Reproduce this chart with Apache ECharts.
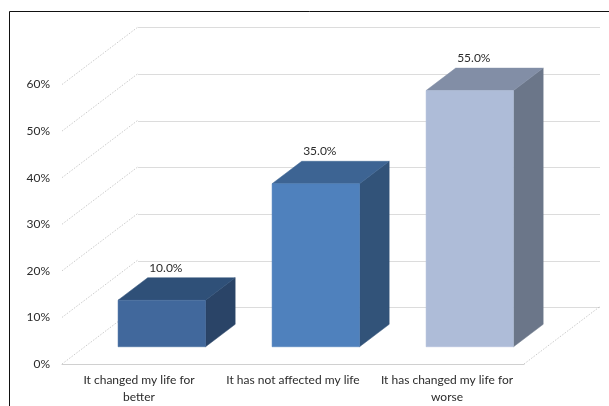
<!DOCTYPE html>
<html>
<head>
<meta charset="utf-8">
<style>html,body{margin:0;padding:0;background:#fff}#c{width:609px;height:406px}</style>
<script src="https://cdn.jsdelivr.net/npm/echarts@6/dist/echarts.min.js"></script>
</head>
<body>
<div id="c"></div>
<script>
const categories = ['It changed my life for\nbetter', 'It has not affected my life', 'It has changed my life for\nworse'];
const values = [10, 35, 55];
const frontColors = ['#41689c', '#4f81bd', '#aebcd8'];
const topColors = ['#2f5078', '#3d6493', '#828ea6'];
const sideColors = ['#2a4467', '#325379', '#6b7689'];
const yTicks = [0, 10, 20, 30, 40, 50, 60];

const FONT = 'Lato';
const TEXT = '#2b2b2b';
const DX = 76, DY = 57.5;          // oblique depth of the floor
const BAR_START = 0.3, BAR_DEPTH = 0.39, BAR_WIDTH = 0.568;

const chart = echarts.init(document.getElementById('c'), null, {renderer: 'canvas'});

function renderBar(params, api) {
  const i = api.value(0), v = api.value(1);
  const band = api.size([1, 0])[0];
  const w = band * BAR_WIDTH;
  const base = api.coord([i, 0]);
  const top = api.coord([i, v]);
  const sx = DX * BAR_START, sy = DY * BAR_START;
  const dx = DX * BAR_DEPTH, dy = DY * BAR_DEPTH;
  const l = base[0] + sx - w / 2, r = l + w;
  const b = base[1] - sy, t = top[1] - sy;
  const poly = (pts, fill) => ({type: 'polygon', shape: {points: pts},
    style: {fill: fill, stroke: fill, lineWidth: 0.5}});
  return {type: 'group', children: [
    poly([[r, b], [r + dx, b - dy], [r + dx, t - dy], [r, t]], sideColors[i]),
    poly([[l, t], [r, t], [r + dx, t - dy], [l + dx, t - dy]], topColors[i]),
    poly([[l, t], [r, t], [r, b], [l, b]], frontColors[i]),
    {type: 'text', style: {
      text: v.toFixed(1) + '%', x: (l + r) / 2 + 4, y: t - dy - 10,
      align: 'center', verticalAlign: 'middle',
      font: '12px ' + FONT, fill: TEXT}}
  ]};
}

function renderDiagonal(params, api) {
  const v = api.value(0);
  const y = api.coord([0, v])[1];
  const x = params.coordSys.x;
  return {type: 'line', shape: {x1: x, y1: y, x2: x + DX, y2: y - DY},
    style: {stroke: '#b5b5b5', lineWidth: 0.7, lineDash: [1.5, 1.5]}};
}

function renderFloorEdge(params, api) {
  const y = api.coord([0, api.value(0)])[1];
  const x = params.coordSys.x + params.coordSys.width;
  return {type: 'line', shape: {x1: x, y1: y, x2: x + DX, y2: y - DY},
    style: {stroke: '#b5b5b5', lineWidth: 0.7, lineDash: [1.5, 1.5]}};
}

chart.setOption({
  backgroundColor: '#ffffff',
  animation: false,
  textStyle: {fontFamily: FONT},
  grid: [
    {left: 62, right: 85, top: 84.5, bottom: 40.5},
    {left: 138, right: 9, top: 27.5, bottom: 98.5}
  ],
  xAxis: [
    {type: 'category', gridIndex: 0, data: categories,
      axisTick: {show: false},
      axisLine: {show: true, lineStyle: {color: '#d0d0d0', width: 1}},
      axisLabel: {interval: 0, color: TEXT, fontSize: 12, fontFamily: FONT, lineHeight: 17, margin: 8}},
    {type: 'category', gridIndex: 1, data: categories,
      axisTick: {show: false}, axisLine: {show: false}, axisLabel: {show: false}}
  ],
  yAxis: [
    {type: 'value', gridIndex: 0, min: 0, max: 60, interval: 10,
      axisLine: {show: false}, axisTick: {show: false}, splitLine: {show: false},
      axisLabel: {color: TEXT, fontSize: 12, fontFamily: FONT, margin: 12, formatter: '{value}%'}},
    {type: 'value', gridIndex: 1, min: 0, max: 60, interval: 10,
      axisLine: {show: false}, axisTick: {show: false}, axisLabel: {show: false},
      splitLine: {show: true, lineStyle: {color: '#dcdcdc', width: 1}}}
  ],
  series: [
    {type: 'custom', xAxisIndex: 0, yAxisIndex: 0, clip: false, silent: true, z: 1,
      renderItem: renderDiagonal, data: yTicks.map(v => [v]), encode: {y: 0}},
    {type: 'custom', xAxisIndex: 0, yAxisIndex: 0, clip: false, silent: true, z: 1,
      renderItem: renderFloorEdge, data: [[0]], encode: {y: 0}},
    {type: 'custom', xAxisIndex: 0, yAxisIndex: 0, clip: false, z: 3,
      renderItem: renderBar, data: values.map((v, i) => [i, v]), encode: {x: 0, y: 1}}
  ],
  graphic: [{
    type: 'polyline', z: 10, silent: true,
    shape: {points: [[9.5, 406], [9.5, 11.5], [609, 11.5]]},
    style: {stroke: '#111111', lineWidth: 1, fill: null}
  }]
});
</script>
</body>
</html>
